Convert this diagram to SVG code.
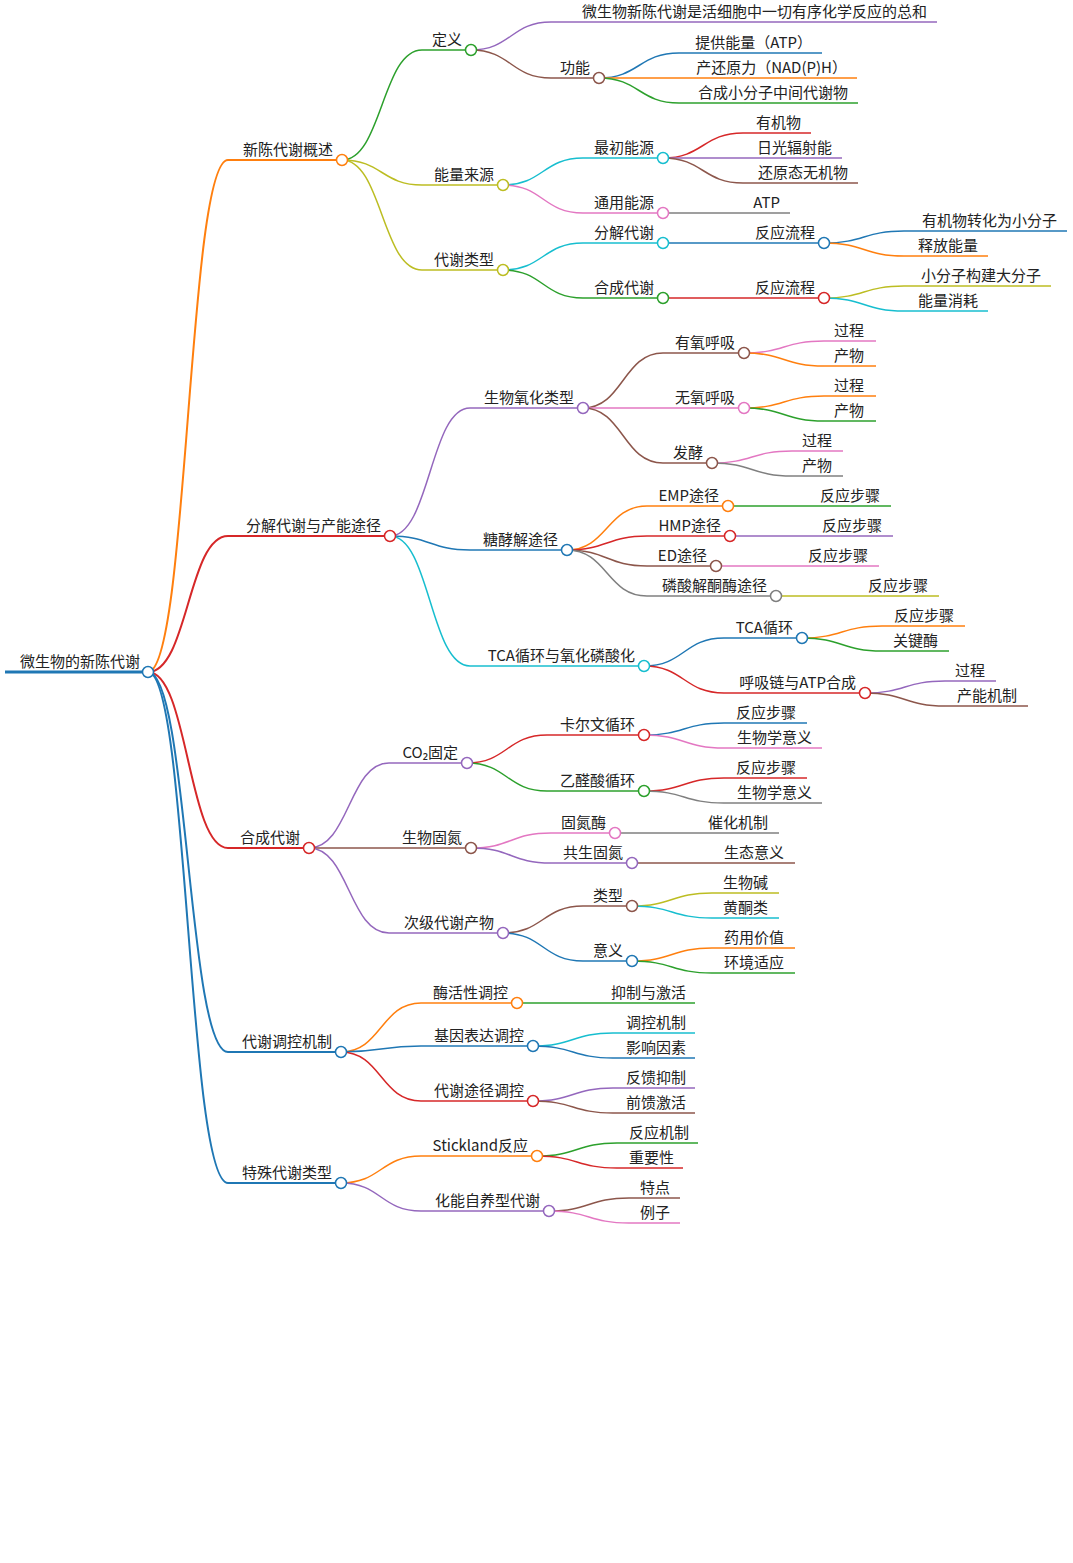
<svg xmlns="http://www.w3.org/2000/svg" width="1073" height="1563" viewBox="0 0 1073 1563">
<style>
text{font-family:"Noto Sans CJK SC","Noto Sans",sans-serif;font-size:15px;fill:#222;text-anchor:end}
path,line{fill:none;stroke-width:1.5}
circle{fill:#fff;stroke-width:1.5}
.d1{stroke-width:2}
.b{stroke:#1f77b4}.o{stroke:#ff7f0e}.g{stroke:#2ca02c}.r{stroke:#d62728}.p{stroke:#9467bd}.n{stroke:#8c564b}.k{stroke:#e377c2}.y{stroke:#7f7f7f}.l{stroke:#bcbd22}.c{stroke:#17becf}
</style>
<rect width="1073" height="1563" fill="#fff"/>
<g id="connectors">
<path class="o d1" d="M148,672 C188,672 188,160 228,160"/>
<path class="r d1" d="M148,672 C188,672 188,536 228,536"/>
<path class="r d1" d="M148,672 C188,672 188,848 228,848"/>
<path class="b d1" d="M148,672 C188,672 188,1052 228,1052"/>
<path class="b d1" d="M148,672 C188,672 188,1183 228,1183"/>
<path class="g" d="M342,160 C382,160 382,50 422,50"/>
<path class="l" d="M342,160 C382,160 382,185 422,185"/>
<path class="l" d="M342,160 C382,160 382,270 422,270"/>
<path class="p" d="M471,50 C511,50 511,22 551,22"/>
<path class="n" d="M471,50 C511,50 511,78 551,78"/>
<path class="b" d="M599,78 C639,78 639,53 679,53"/>
<path class="o" d="M599,78 C639,78 639,78 679,78"/>
<path class="g" d="M599,78 C639,78 639,103 679,103"/>
<path class="c" d="M503,185 C543,185 543,158 583,158"/>
<path class="k" d="M503,185 C543,185 543,213 583,213"/>
<path class="r" d="M663,158 C703,158 703,133 743,133"/>
<path class="p" d="M663,158 C703,158 703,158 743,158"/>
<path class="n" d="M663,158 C703,158 703,183 743,183"/>
<path class="y" d="M663,213 C703,213 703,213 743,213"/>
<path class="c" d="M503,270 C543,270 543,243 583,243"/>
<path class="g" d="M503,270 C543,270 543,298 583,298"/>
<path class="b" d="M663,243 C703,243 703,243 743,243"/>
<path class="r" d="M663,298 C703,298 703,298 743,298"/>
<path class="b" d="M824,243 C864,243 864,231 904,231"/>
<path class="o" d="M824,243 C864,243 864,256 904,256"/>
<path class="l" d="M824,298 C864,298 864,286 904,286"/>
<path class="c" d="M824,298 C864,298 864,311 904,311"/>
<path class="p" d="M390,536 C430,536 430,408 470,408"/>
<path class="b" d="M390,536 C430,536 430,550 470,550"/>
<path class="c" d="M390,536 C430,536 430,666 470,666"/>
<path class="n" d="M583,408 C623,408 623,353 663,353"/>
<path class="k" d="M583,408 C623,408 623,408 663,408"/>
<path class="n" d="M583,408 C623,408 623,463 663,463"/>
<path class="k" d="M744,353 C784,353 784,341 824,341"/>
<path class="o" d="M744,353 C784,353 784,366 824,366"/>
<path class="o" d="M744,408 C784,408 784,396 824,396"/>
<path class="g" d="M744,408 C784,408 784,421 824,421"/>
<path class="k" d="M712,463 C752,463 752,451 792,451"/>
<path class="y" d="M712,463 C752,463 752,476 792,476"/>
<path class="o" d="M567,550 C607,550 607,506 647,506"/>
<path class="r" d="M567,550 C607,550 607,536 647,536"/>
<path class="n" d="M567,550 C607,550 607,566 647,566"/>
<path class="y" d="M567,550 C607,550 607,596 647,596"/>
<path class="g" d="M728,506 C768,506 768,506 808,506"/>
<path class="p" d="M730,536 C770,536 770,536 810,536"/>
<path class="k" d="M716,566 C756,566 756,566 796,566"/>
<path class="l" d="M776,596 C816,596 816,596 856,596"/>
<path class="b" d="M644,666 C684,666 684,638 724,638"/>
<path class="r" d="M644,666 C684,666 684,693 724,693"/>
<path class="o" d="M802,638 C842,638 842,626 882,626"/>
<path class="g" d="M802,638 C842,638 842,651 882,651"/>
<path class="p" d="M865,693 C905,693 905,681 945,681"/>
<path class="n" d="M865,693 C905,693 905,706 945,706"/>
<path class="p" d="M309,848 C349,848 349,763 389,763"/>
<path class="n" d="M309,848 C349,848 349,848 389,848"/>
<path class="p" d="M309,848 C349,848 349,933 389,933"/>
<path class="r" d="M467,763 C507,763 507,735 547,735"/>
<path class="g" d="M467,763 C507,763 507,791 547,791"/>
<path class="b" d="M644,735 C684,735 684,723 724,723"/>
<path class="k" d="M644,735 C684,735 684,748 724,748"/>
<path class="r" d="M644,791 C684,791 684,778 724,778"/>
<path class="y" d="M644,791 C684,791 684,803 724,803"/>
<path class="k" d="M471,848 C511,848 511,833 551,833"/>
<path class="p" d="M471,848 C511,848 511,863 551,863"/>
<path class="y" d="M615,833 C655,833 655,833 695,833"/>
<path class="n" d="M632,863 C672,863 672,863 712,863"/>
<path class="n" d="M503,933 C543,933 543,906 583,906"/>
<path class="b" d="M503,933 C543,933 543,961 583,961"/>
<path class="l" d="M632,906 C672,906 672,893 712,893"/>
<path class="c" d="M632,906 C672,906 672,918 712,918"/>
<path class="o" d="M632,961 C672,961 672,948 712,948"/>
<path class="g" d="M632,961 C672,961 672,973 712,973"/>
<path class="o" d="M341,1052 C381,1052 381,1003 421,1003"/>
<path class="b" d="M341,1052 C381,1052 381,1046 421,1046"/>
<path class="r" d="M341,1052 C381,1052 381,1101 421,1101"/>
<path class="g" d="M517,1003 C557,1003 557,1003 597,1003"/>
<path class="c" d="M533,1046 C573,1046 573,1033 613,1033"/>
<path class="b" d="M533,1046 C573,1046 573,1058 613,1058"/>
<path class="p" d="M533,1101 C573,1101 573,1088 613,1088"/>
<path class="n" d="M533,1101 C573,1101 573,1113 613,1113"/>
<path class="o" d="M341,1183 C381,1183 381,1156 421,1156"/>
<path class="p" d="M341,1183 C381,1183 381,1211 421,1211"/>
<path class="g" d="M537,1156 C577,1156 577,1143 617,1143"/>
<path class="r" d="M537,1156 C577,1156 577,1168 617,1168"/>
<path class="n" d="M549,1211 C589,1211 589,1198 629,1198"/>
<path class="k" d="M549,1211 C589,1211 589,1223 629,1223"/>
</g>
<g id="root"><line class="b" x1="5" y1="672" x2="148" y2="672" style="stroke-width:3"/><text x="140" y="667">微生物的新陈代谢</text><circle class="b" cx="148" cy="672" r="5.5"/></g>
<g id="n1"><line class="o d1" x1="228" y1="160" x2="342" y2="160"/><text x="333" y="155">新陈代谢概述</text><circle class="o" cx="342" cy="160" r="5.5"/></g>
<g id="n2"><line class="r d1" x1="228" y1="536" x2="390" y2="536"/><text x="381" y="531">分解代谢与产能途径</text><circle class="r" cx="390" cy="536" r="5.5"/></g>
<g id="n3"><line class="r d1" x1="228" y1="848" x2="309" y2="848"/><text x="300" y="843">合成代谢</text><circle class="r" cx="309" cy="848" r="5.5"/></g>
<g id="n4"><line class="b d1" x1="228" y1="1052" x2="341" y2="1052"/><text x="332" y="1047">代谢调控机制</text><circle class="b" cx="341" cy="1052" r="5.5"/></g>
<g id="n5"><line class="b d1" x1="228" y1="1183" x2="341" y2="1183"/><text x="332" y="1178">特殊代谢类型</text><circle class="b" cx="341" cy="1183" r="5.5"/></g>
<g id="n1a"><line class="g" x1="422" y1="50" x2="471" y2="50"/><text x="462" y="45">定义</text><circle class="g" cx="471" cy="50" r="5.5"/></g>
<g id="n1a1"><line class="p" x1="551" y1="22" x2="937" y2="22"/><text x="927" y="17">微生物新陈代谢是活细胞中一切有序化学反应的总和</text></g>
<g id="n1a2"><line class="n" x1="551" y1="78" x2="599" y2="78"/><text x="590" y="73">功能</text><circle class="n" cx="599" cy="78" r="5.5"/></g>
<g id="n1a2a"><line class="b" x1="679" y1="53" x2="822" y2="53"/><text x="812" y="48">提供能量（ATP）</text></g>
<g id="n1a2b"><line class="o" x1="679" y1="78" x2="857" y2="78"/><text x="847" y="73">产还原力（NAD(P)H）</text></g>
<g id="n1a2c"><line class="g" x1="679" y1="103" x2="858" y2="103"/><text x="848" y="98">合成小分子中间代谢物</text></g>
<g id="n1b"><line class="l" x1="422" y1="185" x2="503" y2="185"/><text x="494" y="180">能量来源</text><circle class="l" cx="503" cy="185" r="5.5"/></g>
<g id="n1b1"><line class="c" x1="583" y1="158" x2="663" y2="158"/><text x="654" y="153">最初能源</text><circle class="c" cx="663" cy="158" r="5.5"/></g>
<g id="n1b1a"><line class="r" x1="743" y1="133" x2="811" y2="133"/><text x="801" y="128">有机物</text></g>
<g id="n1b1b"><line class="p" x1="743" y1="158" x2="842" y2="158"/><text x="832" y="153">日光辐射能</text></g>
<g id="n1b1c"><line class="n" x1="743" y1="183" x2="858" y2="183"/><text x="848" y="178">还原态无机物</text></g>
<g id="n1b2"><line class="k" x1="583" y1="213" x2="663" y2="213"/><text x="654" y="208">通用能源</text><circle class="k" cx="663" cy="213" r="5.5"/></g>
<g id="n1b2a"><line class="y" x1="743" y1="213" x2="790" y2="213"/><text x="780" y="208">ATP</text></g>
<g id="n1c"><line class="l" x1="422" y1="270" x2="503" y2="270"/><text x="494" y="265">代谢类型</text><circle class="l" cx="503" cy="270" r="5.5"/></g>
<g id="n1c1"><line class="c" x1="583" y1="243" x2="663" y2="243"/><text x="654" y="238">分解代谢</text><circle class="c" cx="663" cy="243" r="5.5"/></g>
<g id="n1c1a"><line class="b" x1="743" y1="243" x2="824" y2="243"/><text x="815" y="238">反应流程</text><circle class="b" cx="824" cy="243" r="5.5"/></g>
<g id="n1c1a1"><line class="b" x1="904" y1="231" x2="1067" y2="231"/><text x="1057" y="226">有机物转化为小分子</text></g>
<g id="n1c1a2"><line class="o" x1="904" y1="256" x2="988" y2="256"/><text x="978" y="251">释放能量</text></g>
<g id="n1c2"><line class="g" x1="583" y1="298" x2="663" y2="298"/><text x="654" y="293">合成代谢</text><circle class="g" cx="663" cy="298" r="5.5"/></g>
<g id="n1c2a"><line class="r" x1="743" y1="298" x2="824" y2="298"/><text x="815" y="293">反应流程</text><circle class="r" cx="824" cy="298" r="5.5"/></g>
<g id="n1c2a1"><line class="l" x1="904" y1="286" x2="1051" y2="286"/><text x="1041" y="281">小分子构建大分子</text></g>
<g id="n1c2a2"><line class="c" x1="904" y1="311" x2="988" y2="311"/><text x="978" y="306">能量消耗</text></g>
<g id="n2a"><line class="p" x1="470" y1="408" x2="583" y2="408"/><text x="574" y="403">生物氧化类型</text><circle class="p" cx="583" cy="408" r="5.5"/></g>
<g id="n2a1"><line class="n" x1="663" y1="353" x2="744" y2="353"/><text x="735" y="348">有氧呼吸</text><circle class="n" cx="744" cy="353" r="5.5"/></g>
<g id="n2a1a"><line class="k" x1="824" y1="341" x2="876" y2="341"/><text x="864" y="336">过程</text></g>
<g id="n2a1b"><line class="o" x1="824" y1="366" x2="876" y2="366"/><text x="864" y="361">产物</text></g>
<g id="n2a2"><line class="k" x1="663" y1="408" x2="744" y2="408"/><text x="735" y="403">无氧呼吸</text><circle class="k" cx="744" cy="408" r="5.5"/></g>
<g id="n2a2a"><line class="o" x1="824" y1="396" x2="876" y2="396"/><text x="864" y="391">过程</text></g>
<g id="n2a2b"><line class="g" x1="824" y1="421" x2="876" y2="421"/><text x="864" y="416">产物</text></g>
<g id="n2a3"><line class="n" x1="663" y1="463" x2="712" y2="463"/><text x="703" y="458">发酵</text><circle class="n" cx="712" cy="463" r="5.5"/></g>
<g id="n2a3a"><line class="k" x1="792" y1="451" x2="843" y2="451"/><text x="832" y="446">过程</text></g>
<g id="n2a3b"><line class="y" x1="792" y1="476" x2="843" y2="476"/><text x="832" y="471">产物</text></g>
<g id="n2b"><line class="b" x1="470" y1="550" x2="567" y2="550"/><text x="558" y="545">糖酵解途径</text><circle class="b" cx="567" cy="550" r="5.5"/></g>
<g id="n2b1"><line class="o" x1="647" y1="506" x2="728" y2="506"/><text x="719" y="501">EMP途径</text><circle class="o" cx="728" cy="506" r="5.5"/></g>
<g id="n2b1a"><line class="g" x1="808" y1="506" x2="891" y2="506"/><text x="880" y="501">反应步骤</text></g>
<g id="n2b2"><line class="r" x1="647" y1="536" x2="730" y2="536"/><text x="721" y="531">HMP途径</text><circle class="r" cx="730" cy="536" r="5.5"/></g>
<g id="n2b2a"><line class="p" x1="810" y1="536" x2="893" y2="536"/><text x="882" y="531">反应步骤</text></g>
<g id="n2b3"><line class="n" x1="647" y1="566" x2="716" y2="566"/><text x="707" y="561">ED途径</text><circle class="n" cx="716" cy="566" r="5.5"/></g>
<g id="n2b3a"><line class="k" x1="796" y1="566" x2="879" y2="566"/><text x="868" y="561">反应步骤</text></g>
<g id="n2b4"><line class="y" x1="647" y1="596" x2="776" y2="596"/><text x="767" y="591">磷酸解酮酶途径</text><circle class="y" cx="776" cy="596" r="5.5"/></g>
<g id="n2b4a"><line class="l" x1="856" y1="596" x2="939" y2="596"/><text x="928" y="591">反应步骤</text></g>
<g id="n2c"><line class="c" x1="470" y1="666" x2="644" y2="666"/><text x="635" y="661">TCA循环与氧化磷酸化</text><circle class="c" cx="644" cy="666" r="5.5"/></g>
<g id="n2c1"><line class="b" x1="724" y1="638" x2="802" y2="638"/><text x="793" y="633">TCA循环</text><circle class="b" cx="802" cy="638" r="5.5"/></g>
<g id="n2c1a"><line class="o" x1="882" y1="626" x2="965" y2="626"/><text x="954" y="621">反应步骤</text></g>
<g id="n2c1b"><line class="g" x1="882" y1="651" x2="949" y2="651"/><text x="938" y="646">关键酶</text></g>
<g id="n2c2"><line class="r" x1="724" y1="693" x2="865" y2="693"/><text x="856" y="688">呼吸链与ATP合成</text><circle class="r" cx="865" cy="693" r="5.5"/></g>
<g id="n2c2a"><line class="p" x1="945" y1="681" x2="996" y2="681"/><text x="985" y="676">过程</text></g>
<g id="n2c2b"><line class="n" x1="945" y1="706" x2="1028" y2="706"/><text x="1017" y="701">产能机制</text></g>
<g id="n3a"><line class="p" x1="389" y1="763" x2="467" y2="763"/><text x="458" y="758">CO₂固定</text><circle class="p" cx="467" cy="763" r="5.5"/></g>
<g id="n3a1"><line class="r" x1="547" y1="735" x2="644" y2="735"/><text x="635" y="730">卡尔文循环</text><circle class="r" cx="644" cy="735" r="5.5"/></g>
<g id="n3a1a"><line class="b" x1="724" y1="723" x2="807" y2="723"/><text x="796" y="718">反应步骤</text></g>
<g id="n3a1b"><line class="k" x1="724" y1="748" x2="822" y2="748"/><text x="812" y="743">生物学意义</text></g>
<g id="n3a2"><line class="g" x1="547" y1="791" x2="644" y2="791"/><text x="635" y="786">乙醛酸循环</text><circle class="g" cx="644" cy="791" r="5.5"/></g>
<g id="n3a2a"><line class="r" x1="724" y1="778" x2="807" y2="778"/><text x="796" y="773">反应步骤</text></g>
<g id="n3a2b"><line class="y" x1="724" y1="803" x2="822" y2="803"/><text x="812" y="798">生物学意义</text></g>
<g id="n3b"><line class="n" x1="389" y1="848" x2="471" y2="848"/><text x="462" y="843">生物固氮</text><circle class="n" cx="471" cy="848" r="5.5"/></g>
<g id="n3b1"><line class="k" x1="551" y1="833" x2="615" y2="833"/><text x="606" y="828">固氮酶</text><circle class="k" cx="615" cy="833" r="5.5"/></g>
<g id="n3b1a"><line class="y" x1="695" y1="833" x2="779" y2="833"/><text x="768" y="828">催化机制</text></g>
<g id="n3b2"><line class="p" x1="551" y1="863" x2="632" y2="863"/><text x="623" y="858">共生固氮</text><circle class="p" cx="632" cy="863" r="5.5"/></g>
<g id="n3b2a"><line class="n" x1="712" y1="863" x2="795" y2="863"/><text x="784" y="858">生态意义</text></g>
<g id="n3c"><line class="p" x1="389" y1="933" x2="503" y2="933"/><text x="494" y="928">次级代谢产物</text><circle class="p" cx="503" cy="933" r="5.5"/></g>
<g id="n3c1"><line class="n" x1="583" y1="906" x2="632" y2="906"/><text x="623" y="901">类型</text><circle class="n" cx="632" cy="906" r="5.5"/></g>
<g id="n3c1a"><line class="l" x1="712" y1="893" x2="779" y2="893"/><text x="768" y="888">生物碱</text></g>
<g id="n3c1b"><line class="c" x1="712" y1="918" x2="779" y2="918"/><text x="768" y="913">黄酮类</text></g>
<g id="n3c2"><line class="b" x1="583" y1="961" x2="632" y2="961"/><text x="623" y="956">意义</text><circle class="b" cx="632" cy="961" r="5.5"/></g>
<g id="n3c2a"><line class="o" x1="712" y1="948" x2="795" y2="948"/><text x="784" y="943">药用价值</text></g>
<g id="n3c2b"><line class="g" x1="712" y1="973" x2="795" y2="973"/><text x="784" y="968">环境适应</text></g>
<g id="n4a"><line class="o" x1="421" y1="1003" x2="517" y2="1003"/><text x="508" y="998">酶活性调控</text><circle class="o" cx="517" cy="1003" r="5.5"/></g>
<g id="n4a1"><line class="g" x1="597" y1="1003" x2="695" y2="1003"/><text x="686" y="998">抑制与激活</text></g>
<g id="n4b"><line class="b" x1="421" y1="1046" x2="533" y2="1046"/><text x="524" y="1041">基因表达调控</text><circle class="b" cx="533" cy="1046" r="5.5"/></g>
<g id="n4b1"><line class="c" x1="613" y1="1033" x2="695" y2="1033"/><text x="686" y="1028">调控机制</text></g>
<g id="n4b2"><line class="b" x1="613" y1="1058" x2="695" y2="1058"/><text x="686" y="1053">影响因素</text></g>
<g id="n4c"><line class="r" x1="421" y1="1101" x2="533" y2="1101"/><text x="524" y="1096">代谢途径调控</text><circle class="r" cx="533" cy="1101" r="5.5"/></g>
<g id="n4c1"><line class="p" x1="613" y1="1088" x2="695" y2="1088"/><text x="686" y="1083">反馈抑制</text></g>
<g id="n4c2"><line class="n" x1="613" y1="1113" x2="695" y2="1113"/><text x="686" y="1108">前馈激活</text></g>
<g id="n5a"><line class="o" x1="421" y1="1156" x2="537" y2="1156"/><text x="528" y="1151">Stickland反应</text><circle class="o" cx="537" cy="1156" r="5.5"/></g>
<g id="n5a1"><line class="g" x1="617" y1="1143" x2="698" y2="1143"/><text x="689" y="1138">反应机制</text></g>
<g id="n5a2"><line class="r" x1="617" y1="1168" x2="683" y2="1168"/><text x="674" y="1163">重要性</text></g>
<g id="n5b"><line class="p" x1="421" y1="1211" x2="549" y2="1211"/><text x="540" y="1206">化能自养型代谢</text><circle class="p" cx="549" cy="1211" r="5.5"/></g>
<g id="n5b1"><line class="n" x1="629" y1="1198" x2="680" y2="1198"/><text x="670" y="1193">特点</text></g>
<g id="n5b2"><line class="k" x1="629" y1="1223" x2="680" y2="1223"/><text x="670" y="1218">例子</text></g>
</svg>
